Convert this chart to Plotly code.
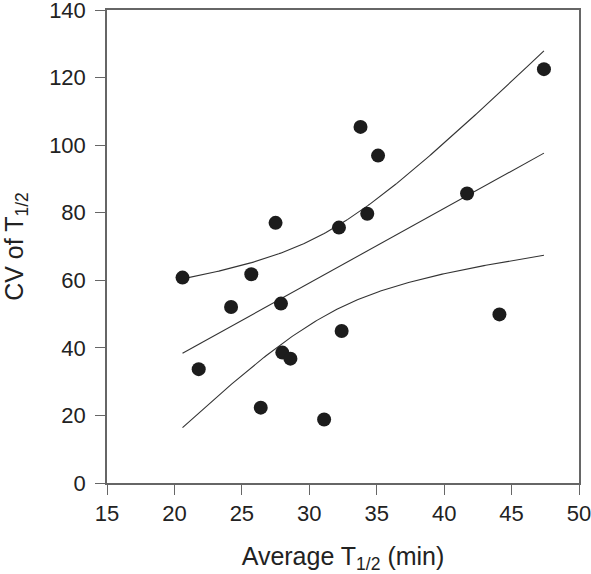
import numpy as np
import plotly.graph_objects as go

# Data
avg_t_half = [20.6, 21.8, 24.2, 25.7, 26.4, 27.5, 27.9, 28.0, 28.6, 31.1,
              32.2, 32.4, 33.8, 35.1, 34.3, 41.7, 44.1, 47.4]
cv_t_half = [60.8, 33.7, 52.1, 61.8, 22.3, 77.0, 53.1, 38.6, 36.8, 18.8,
             75.6, 45.0, 105.4, 96.9, 79.7, 85.7, 49.9, 122.5]
x_ticks = [15, 20, 25, 30, 35, 40, 45, 50]
y_ticks = [0, 20, 40, 60, 80, 100, 120, 140]

# Linear regression with 95% confidence band of the mean
x = np.array(avg_t_half)
y = np.array(cv_t_half)
n = len(x)
slope, intercept = np.polyfit(x, y, 1)
resid = y - (slope * x + intercept)
s = np.sqrt(np.sum(resid ** 2) / (n - 2))
sxx = np.sum((x - x.mean()) ** 2)
t_crit = 2.1199  # t(0.975, df=16)
xf = np.linspace(x.min(), x.max(), 200)
yf = slope * xf + intercept
half = t_crit * s * np.sqrt(1.0 / n + (xf - x.mean()) ** 2 / sxx)

FONT = "Liberation Sans, Arial, sans-serif"
line_style = dict(color="#333333", width=1.1)
fig = go.Figure()
for yy in (yf + half, yf, yf - half):
    fig.add_trace(go.Scatter(x=xf, y=yy, mode="lines", line=line_style,
                             hoverinfo="skip", showlegend=False))
fig.add_trace(go.Scatter(x=avg_t_half, y=cv_t_half, mode="markers",
                         marker=dict(size=14, color="#1c1c1c"),
                         showlegend=False))

axis_common = dict(
    showgrid=False, zeroline=False, showline=True, linecolor="#666666",
    linewidth=1.5, mirror=True, ticks="outside", ticklen=10, tickwidth=1.3,
    tickcolor="#666666", automargin=False, ticklabeloverflow="allow",
    tickfont=dict(family=FONT, size=22, color="#222222"),
)
fig.update_xaxes(range=[15, 50], tickvals=x_ticks, **axis_common,
                 title=dict(text="Average T<sub>1/2</sub> (min)",
                            font=dict(family=FONT, size=25, color="#222222"),
                            standoff=25))
fig.update_yaxes(range=[0, 140], tickvals=y_ticks, **axis_common,
                 ticklabelstandoff=5,
                 title=dict(text="CV of T<sub>1/2</sub>",
                            font=dict(family=FONT, size=25, color="#222222"),
                            standoff=24))
fig.update_layout(
    width=591, height=574,
    margin=dict(l=107, r=12, t=10, b=91),
    plot_bgcolor="white", paper_bgcolor="white",
)
fig.write_html("out.html",
               config={"displayModeBar": False},
               post_script="document.body.style.margin='0';")
